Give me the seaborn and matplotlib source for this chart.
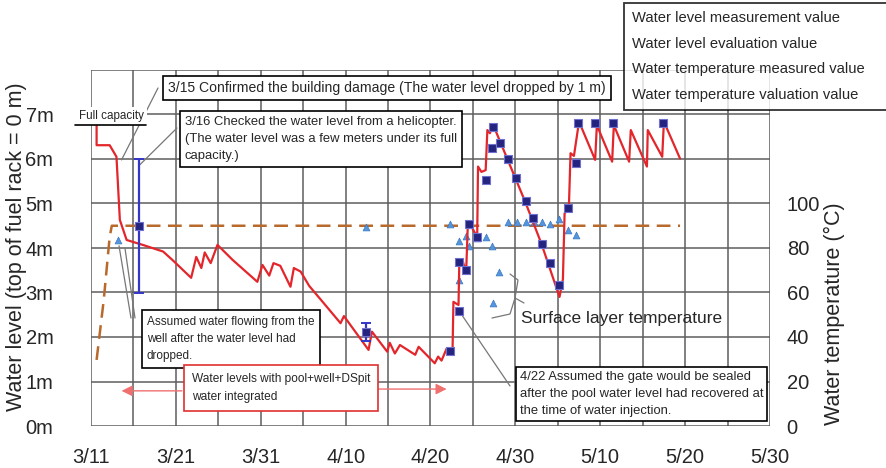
import matplotlib
matplotlib.use("Agg")
import matplotlib.pyplot as plt
import matplotlib.lines as mlines
from matplotlib.ticker import FixedLocator, FixedFormatter
import seaborn as sns
import pandas as pd

# ---------------- data (x = days after 3/11) ----------------
x_tick_days = [0, 10, 20, 30, 40, 50, 60, 70, 80]
x_minor_days = [5, 15, 25, 35, 45, 55, 65, 75]
x_tick_labels = ["3/11", "3/21", "3/31", "4/10", "4/20", "4/30", "5/10", "5/20", "5/30"]
level_ticks = [0, 1, 2, 3, 4, 5, 6, 7, 8]
level_tick_labels = ["0m", "1m", "2m", "3m", "4m", "5m", "6m", "7m", ""]
temp_ticks = [0, 20, 40, 60, 80, 100, 120, 140, 160]
temp_tick_labels = ["0", "20", "40", "60", "80", "100", "", "", ""]

# Water level evaluation value (red line)
eval_day = [0.66, 0.66, 2.2, 3.0, 3.4, 4.2, 6.1, 8.5, 9.6, 11.8, 12.4, 13.0, 13.4, 14.1,
            14.9, 16.7, 19.6, 20.2, 21.0, 21.5, 22.3, 23.5, 23.9, 24.7, 25.7, 27.6, 29.4,
            29.8, 32.7, 33.1, 34.9, 35.2, 35.8, 36.4, 38.2, 38.6, 40.5, 40.9, 41.3, 41.9,
            42.6, 42.7, 43.3, 43.4, 43.8, 44.2, 44.4, 44.7, 45.5, 45.6, 46.0, 46.5, 46.7,
            47.0, 47.4, 49.1, 51.2, 53.1, 55.2, 55.6, 55.8, 56.3, 56.5, 56.9, 57.5, 59.4,
            59.6, 61.4, 61.6, 63.4, 63.6, 65.5, 65.6, 67.3, 67.5, 69.4]
eval_level = [6.75, 6.31, 6.31, 6.05, 4.63, 4.18, 4.07, 3.92, 3.73, 3.33, 3.80, 3.55, 3.90, 3.66,
              4.07, 3.73, 3.24, 3.62, 3.38, 3.66, 3.60, 3.13, 3.55, 3.47, 3.15, 2.72, 2.31,
              2.47, 1.71, 2.12, 1.67, 1.87, 1.63, 1.82, 1.60, 1.78, 1.41, 1.56, 1.47, 1.74,
              1.72, 2.79, 2.72, 3.73, 3.70, 3.45, 4.55, 4.52, 4.25, 5.83, 5.71, 5.75, 6.65,
              6.58, 6.76, 5.98, 5.02, 4.08, 2.90, 3.30, 4.78, 4.89, 6.13, 6.07, 6.84, 5.98,
              6.76, 5.94, 6.76, 5.94, 6.65, 5.83, 6.65, 6.05, 6.84, 6.01]

# Water level measurement value (squares)
meas_day = [5.66, 32.4, 42.3, 43.3, 43.4, 44.2, 44.5, 45.5, 46.5, 47.2, 47.4, 48.2, 49.1,
            50.1, 51.2, 52.1, 53.1, 54.1, 55.1, 56.2, 57.2, 57.4, 59.4, 61.5, 67.4]
meas_level = [4.50, 2.12, 1.68, 2.59, 3.69, 3.50, 4.55, 4.24, 5.53, 6.24, 6.73, 6.37, 5.99,
              5.58, 5.06, 4.67, 4.10, 3.66, 3.17, 4.91, 5.92, 6.82, 6.82, 6.82, 6.82]
# measurements with uncertainty ranges
err_day = [5.66, 32.4]
err_level = [4.50, 2.12]
err_size = [1.50, 0.20]

# Water temperature measured value (triangles, deg C)
tmeas_day = [3.2, 32.4, 42.3, 43.3, 43.4, 44.2, 44.5, 45.5, 46.5, 47.2, 48.1, 47.4, 49.1,
             50.2, 51.2, 52.2, 53.1, 54.1, 55.1, 56.2, 57.2]
tmeas_temp = [83.6, 89.6, 90.6, 83.1, 65.6, 85.4, 80.9, 84.3, 84.8, 81.0, 69.3, 55.1, 91.8,
              91.8, 91.8, 91.8, 91.8, 90.8, 93.0, 88.0, 85.8]

# Water temperature valuation value (dashed)
teval_day = [0.66, 1.5, 2.2, 2.45, 69.4]
teval_temp = [29.7, 56.6, 85.0, 90.0, 90.0]

legend_labels = ["Water level measurement value", "Water level evaluation value",
                 "Water temperature measured value", "Water temperature valuation value"]

eval_df = pd.DataFrame({"day": eval_day, "level": eval_level})
meas_df = pd.DataFrame({"day": meas_day, "level": meas_level})
tmeas_df = pd.DataFrame({"day": tmeas_day, "temp": tmeas_temp})
teval_df = pd.DataFrame({"day": teval_day, "temp": teval_temp})

# ---------------- style ----------------
sns.set_theme(style="white")
plt.rcParams["font.family"] = ["Liberation Sans", "DejaVu Sans"]

W, H = 887, 468
fig = plt.figure(figsize=(W / 100, H / 100), dpi=100)
ax = fig.add_axes([91 / W, 1 - 426 / H, (770 - 91) / W, (426 - 70) / H])
ax2 = ax.twinx()

def fx(px):
    return px / W

def fy(py):
    return 1 - py / H

GRID = "#5e5e5e"
RED = "#e3262b"

ax.set_xlim(0, 80)
ax.set_ylim(0, 8)
ax.set_xticks(x_tick_days)
ax.set_xticks(x_minor_days, minor=True)
ax.set_xticklabels(x_tick_labels)
ax.set_yticks(level_ticks)
ax.set_yticklabels(level_tick_labels)

# grid drawn on the temperature axis (below everything else)
ax2.set_ylim(0, 160)
ax2.yaxis.set_major_locator(FixedLocator(temp_ticks))
ax2.yaxis.set_major_formatter(FixedFormatter(temp_tick_labels))
ax2.xaxis.set_visible(True)
ax2.tick_params(axis="x", which="both", length=0, labelbottom=False, labeltop=False)
ax2.grid(True, which="both", color=GRID, lw=1.1)
ax2.tick_params(axis="y", length=0, pad=12, labelsize=14.5)
for s in ax2.spines.values():
    s.set_visible(False)

# temperature series
sns.lineplot(data=teval_df, x="day", y="temp", ax=ax2, sort=False, estimator=None,
             color="#b8692c", lw=1.8, zorder=3).lines[-1].set_dashes((5.5, 3))
sns.scatterplot(data=tmeas_df, x="day", y="temp", ax=ax2, marker="^", s=24,
                color="#5595dc", edgecolor="#3a78c4", linewidth=0.5, zorder=4)

# level axis on top
ax.set_zorder(ax2.get_zorder() + 1)
ax.patch.set_visible(False)
sns.lineplot(data=eval_df, x="day", y="level", ax=ax, sort=False, estimator=None,
             color=RED, lw=1.6, zorder=3)
ax.errorbar(err_day, err_level, yerr=err_size, fmt="none", ecolor="#3535c8",
            elinewidth=1.6, capsize=3.5, capthick=1.4, zorder=4)
sns.scatterplot(data=meas_df, x="day", y="level", ax=ax, marker="s", s=34,
                color="#24247e", edgecolor="#7070d0", linewidth=0.8, zorder=5)

ax.set_xlim(0, 80)
ax.set_ylim(0, 8)
ax2.set_ylim(0, 160)
ax.tick_params(axis="y", which="both", length=0, pad=27, labelsize=14.5)
ax.tick_params(axis="x", which="both", length=0, pad=16, labelsize=14.5)
ax.set_xlabel("")
ax.set_ylabel("")
ax2.set_xlabel("")
ax2.set_ylabel("")
for s in ax.spines.values():
    s.set_visible(False)
ax.grid(False)

# axis titles
fig.text(fx(17), fy(247), "Water level (top of fuel rack = 0 m)", rotation=90,
         ha="center", va="center", fontsize=15.5)
fig.text(fx(834), fy(314), "Water temperature (°C)", rotation=90,
         ha="center", va="center", fontsize=15.5)

# legend (text only); frame runs past the right edge of the figure
handles = [mlines.Line2D([], [], linestyle="none") for _ in legend_labels]
leg = ax.legend(handles, legend_labels, loc="upper left",
                bbox_to_anchor=(fx(624), fy(110), fx(960) - fx(624), fy(3) - fy(110)),
                bbox_transform=fig.transFigure, mode="expand",
                frameon=True, fancybox=False, handlelength=0, handletextpad=0,
                fontsize=10.6, labelspacing=0.78, borderpad=0.55, borderaxespad=0)
leg.get_frame().set_edgecolor("black")
leg.get_frame().set_linewidth(1.3)
leg.set_zorder(20)

# annotation boxes
box_kw = dict(boxstyle="square,pad=0.35", fc="white", ec="black", lw=1.2)
fig.text(fx(168), fy(88), "3/15 Confirmed the building damage (The water level dropped by 1 m)",
         fontsize=10.1, va="center", ha="left", bbox=box_kw, zorder=10)
fig.text(fx(185), fy(139), "3/16 Checked the water level from a helicopter.\n"
         "(The water level was a few meters under its full\ncapacity.)",
         fontsize=9.4, va="center", ha="left", linespacing=1.6, bbox=box_kw, zorder=10)
fig.text(fx(147), fy(339), "Assumed water flowing from the\nwell after the water level had\ndropped.",
         fontsize=8.5, va="center", ha="left", linespacing=1.6,
         bbox=dict(boxstyle="square,pad=0.45", fc="white", ec="black", lw=1.2), zorder=10)
fig.text(fx(192), fy(388), "Water levels with pool+well+DSpit\nwater integrated",
         fontsize=8.6, va="center", ha="left", linespacing=1.7,
         bbox=dict(boxstyle="square,pad=0.65", fc="white", ec="#e03030", lw=1.2), zorder=10)
fig.text(fx(520), fy(394), "4/22 Assumed the gate would be sealed\n"
         "after the pool water level had recovered at\nthe time of water injection.",
         fontsize=9.4, va="center", ha="left", linespacing=1.6,
         bbox=dict(boxstyle="square,pad=0.3", fc="white", ec="black", lw=1.2), zorder=10)
fig.text(fx(521), fy(318), "Surface layer temperature", fontsize=12.5, va="center", ha="left")

# leader lines
lead = dict(arrowstyle="-", color="#777777", lw=0.9, shrinkA=0, shrinkB=0)
ax.annotate("", xy=(3.6, 5.98), xytext=(158, H - 88), textcoords="figure pixels", arrowprops=lead)
ax.annotate("", xy=(5.75, 5.87), xytext=(177, H - 128), textcoords="figure pixels", arrowprops=lead)
ax.annotate("", xy=(3.3, 4.05), xytext=(131, H - 318), textcoords="figure pixels", arrowprops=lead)
ax.annotate("", xy=(4.0, 4.0), xytext=(135, H - 318), textcoords="figure pixels", arrowprops=lead)
ax.annotate("", xy=(43.5, 2.55), xytext=(510, H - 386), textcoords="figure pixels", arrowprops=lead)
for xs, ys in [([510, 518, 515, 524], [274, 280, 298, 303]),
               ([492, 510, 515], [318, 314, 298])]:
    fig.add_artist(mlines.Line2D([fx(v) for v in xs], [fy(v) for v in ys],
                                 color="#777777", lw=0.9))

# "Full capacity" label (white background hides the grid behind it)
fig.text(fx(79), fy(116), "Full capacity", fontsize=8.4, va="center", ha="left", zorder=10,
         bbox=dict(boxstyle="square,pad=0.25", fc="white", ec="none"))
fig.add_artist(mlines.Line2D([fx(75), fx(146)], [fy(125), fy(125)], color="black", lw=1.2,
                             zorder=11))

# red arrows
arr = dict(arrowstyle="-|>", color="#f07070", lw=1.0, mutation_scale=16, shrinkA=0, shrinkB=0)
ax.annotate("", xy=(3.6, 0.79), xytext=(10.7, 0.79), arrowprops=arr)
ax.annotate("", xy=(41.9, 0.83), xytext=(33.3, 0.83), arrowprops=arr)

fig.savefig("out.png", dpi=100)
